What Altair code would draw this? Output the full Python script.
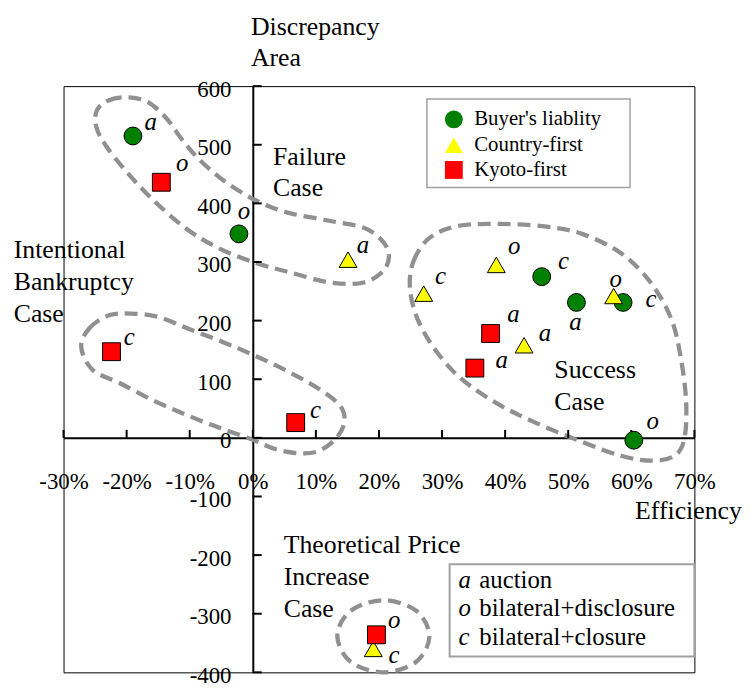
import altair as alt
import pandas as pd

# ---------------- data ----------------
series_names = ["Buyer's liablity", "Country-first", "Kyoto-first"]

buyer_x = [-19.0, -2.2, 45.8, 51.3, 58.7, 60.4]
buyer_y = [515, 348, 275, 231, 231, -4]
buyer_lab = ["a", "o", "c", "a", "c", "o"]

country_x = [15.1, 27.1, 38.6, 43.0, 57.2, 19.1]
country_y = [304, 246, 295, 158, 242, -360]
country_lab = ["a", "c", "o", "a", "o", "c"]

kyoto_x = [-14.5, -22.4, 6.8, 37.7, 35.2, 19.6]
kyoto_y = [436, 147, 26, 178, 119, -336]
kyoto_lab = ["o", "c", "c", "a", "a", "o"]

x_ticks = [-30, -20, -10, 0, 10, 20, 30, 40, 50, 60, 70]
y_ticks = [-400, -300, -200, -100, 0, 100, 200, 300, 400, 500, 600]

# dashed outlines (data units)
outline_fail_x = [-24.7, -22.8, -19.6, -16.5, -13.6, -11.3, -8.6, -5.0, -1.2, 1.9, 6.0, 12.3, 18.1, 21.3,
                  21.0, 17.6, 12.3, 6.0, 0.3, -5.5, -10.7, -16.0, -20.1, -23.2, -24.8]
outline_fail_y = [559, 576, 581, 572, 544, 510, 476, 442, 415, 398, 383, 370, 356, 324,
                  289, 265, 265, 282, 299, 324, 358, 408, 455, 497, 530]
outline_bank_x = [-27.2, -25.9, -22.8, -19.2, -14.9, -9.7, -4.4, 0.8, 6.0, 10.7, 13.9, 14.5, 13.1,
                  10.3, 7.1, 3.5, -0.3, -5.5, -10.7, -16.0, -21.2, -25.4]
outline_bank_y = [155, 187, 209, 212, 206, 184, 162, 138, 111, 82, 54, 26, -2,
                  -23, -26, -19, -2, 18, 40, 65, 94, 116]
outline_succ_x = [24.9, 25.5, 28.0, 32.3, 38.5, 45.9, 52.2, 58.5, 63.2, 66.4, 67.9, 68.7, 68.4,
                  66.8, 63.2, 58.5, 52.2, 44.8, 38.5, 32.7, 28.6, 26.0]
outline_succ_y = [257, 302, 341, 361, 365, 361, 348, 314, 263, 201, 133, 60, -2,
                  -31, -39, -31, -7, 26, 60, 104, 155, 206]
outline_theo_x = [13.4, 15.5, 20.7, 25.9, 28.0, 25.9, 20.7, 15.5]
outline_theo_y = [-338, -295, -277, -295, -338, -382, -400, -382]

ann_text = ["Discrepancy\nArea", "Failure\nCase", "Intentional\nBankruptcy\nCase",
            "Success\nCase", "Theoretical Price\nIncrease\nCase", "Efficiency"]
ann_x = [-0.3, 3.2, -37.9, 47.8, 4.9, 60.6]
ann_y = [688, 466, 306, 102, -197, -138]

key_letters = ["a", "o", "c"]
key_desc = ["auction", "bilateral+disclosure", "bilateral+closure"]
key_letter_x = 32.6
key_desc_x = 35.9
key_y = [-256, -303.5, -352.6]

legend1_box = {"x": 27.6, "x2": 59.8, "y": 578, "y2": 427}
legend2_box = {"x": 31.2, "x2": 70.0, "y": -215.6, "y2": -373}

# ---------------- layout ----------------
X_MIN, X_MAX = -30, 70
Y_MIN, Y_MAX = -400, 600
W, H = 636, 591
PX_X = (X_MAX - X_MIN) / W
PX_Y = (Y_MAX - Y_MIN) / H

# label offsets in pixels (dx right, dy down)
buyer_off = [(18, -11), (5, -20), (22, -13), (-1, 23), (28, 0), (19, -16)]
country_off = [(15, -12), (17, -15), (18, -16), (21, -9), (2, -14), (21, 9)]
kyoto_off = [(21, -16), (18, -12), (20, -10), (23, -17), (27, -5), (18, -12)]

FONT = "Liberation Serif"

rows = []
for name, xs, ys, labs, offs in [
    (series_names[0], buyer_x, buyer_y, buyer_lab, buyer_off),
    (series_names[1], country_x, country_y, country_lab, country_off),
    (series_names[2], kyoto_x, kyoto_y, kyoto_lab, kyoto_off),
]:
    for x, y, l, (dx, dy) in zip(xs, ys, labs, offs):
        rows.append({"series": name, "x": x, "y": y, "lab": l,
                     "lx": x + dx * PX_X, "ly": y - dy * PX_Y})
pts = pd.DataFrame(rows)

orows = []
for oid, xs, ys in [("fail", outline_fail_x, outline_fail_y), ("bank", outline_bank_x, outline_bank_y),
                    ("succ", outline_succ_x, outline_succ_y), ("theo", outline_theo_x, outline_theo_y)]:
    for i, (x, y) in enumerate(zip(xs, ys)):
        orows.append({"oid": oid, "i": i, "x": x, "y": y})
outl = pd.DataFrame(orows)

xscale = alt.Scale(domain=[X_MIN, X_MAX], nice=False, zero=False)
yscale = alt.Scale(domain=[Y_MIN, Y_MAX], nice=False, zero=False)

xaxis = alt.Axis(title=None, values=x_ticks, offset=-(0 - Y_MIN) / PX_Y, ticks=False, tickSize=0,
                 grid=False, domainColor="black", domainWidth=2, labelFont=FONT, labelFontSize=23,
                 labelColor="black", labelPadding=51, labelBaseline="alphabetic", labelFlush=False,
                 labelOverlap=False, labelExpr="datum.value + '%'")
yaxis = alt.Axis(title=None, values=y_ticks, offset=-(0 - X_MIN) / PX_X, ticks=False, tickSize=0,
                 grid=False, domainColor="black", domainWidth=2, labelFont=FONT, labelFontSize=23,
                 labelColor="black", labelPadding=22, labelOffset=3, labelFlush=False,
                 labelOverlap=False, labelExpr="'' + datum.value")


def X(f, **kw):
    return alt.X(f, type="quantitative", scale=xscale, axis=xaxis, **kw)


def Y(f, **kw):
    return alt.Y(f, type="quantitative", scale=yscale, axis=yaxis, **kw)


outlines = alt.Chart(outl).mark_line(
    interpolate="cardinal-closed", strokeDash=[13, 7], strokeWidth=4.3, color="#909090"
).encode(x=X("x"), y=Y("y"), order="i:Q", detail="oid:N")

xt = pd.DataFrame({"v": x_ticks, "a": [0] * len(x_ticks), "b": [8 * PX_Y] * len(x_ticks)})
yt = pd.DataFrame({"v": y_ticks, "a": [0] * len(y_ticks), "b": [9 * PX_X] * len(y_ticks)})
xtick_layer = alt.Chart(xt).mark_rule(color="black", strokeWidth=2).encode(
    x=X("v"), y=Y("a"), y2="b:Q")
ytick_layer = alt.Chart(yt).mark_rule(color="black", strokeWidth=2).encode(
    y=Y("v"), x=X("a"), x2="b:Q")

boxes = pd.DataFrame([dict(legend1_box, w=1.5), dict(legend2_box, w=2)])
box_layer = alt.Chart(boxes).mark_rect(fill="white", stroke="#a0a0a0").encode(
    x=X("x"), x2="x2:Q", y=Y("y"), y2="y2:Q", strokeWidth=alt.StrokeWidth("w:Q", scale=None))

leg = alt.Legend(title=None, orient="none", legendX=383, legendY=23, padding=0,
                 labelFont=FONT, labelFontSize=21, labelColor="black", symbolSize=324,
                 symbolStrokeColor="black", symbolStrokeWidth=1, symbolOpacity=1,
                 rowPadding=3, labelOffset=10)

points = alt.Chart(pts).mark_point(filled=True, size=324, stroke="black", strokeWidth=1, opacity=1).encode(
    x=X("x"), y=Y("y"),
    color=alt.Color("series:N", scale=alt.Scale(domain=series_names, range=["#008000", "#ffff00", "#ff0000"]),
                    legend=leg),
    shape=alt.Shape("series:N", scale=alt.Scale(domain=series_names, range=["circle", "triangle-up", "square"]),
                    legend=leg),
)

pt_labels = alt.Chart(pts).mark_text(font=FONT, fontStyle="italic", fontSize=25, color="black",
                                     align="center", baseline="middle", dy=-3).encode(
    x=X("lx"), y=Y("ly"), text="lab:N")

ann = pd.DataFrame({"t": ann_text, "x": ann_x, "y": ann_y})
ann_layer = alt.Chart(ann).mark_text(font=FONT, fontSize=26, color="black", align="left",
                                     baseline="alphabetic", lineBreak="\n", lineHeight=32).encode(
    x=X("x"), y=Y("y"), text="t:N")

key = pd.DataFrame({"l": key_letters, "d": key_desc, "y": key_y,
                    "lx": [key_letter_x] * 3, "dx": [key_desc_x] * 3})
key_letters_layer = alt.Chart(key).mark_text(font=FONT, fontStyle="italic", fontSize=25, color="black",
                                             align="left", baseline="alphabetic").encode(
    x=X("lx"), y=Y("y"), text="l:N")
key_desc_layer = alt.Chart(key).mark_text(font=FONT, fontSize=25, color="black",
                                          align="left", baseline="alphabetic").encode(
    x=X("dx"), y=Y("y"), text="d:N")

chart = alt.layer(
    outlines, xtick_layer, ytick_layer, box_layer, points, pt_labels, ann_layer,
    key_letters_layer, key_desc_layer
).properties(
    width=W, height=H,
    autosize=alt.AutoSizeParams(type="none"),
    padding={"left": 56, "top": 76, "right": 48, "bottom": 12},
    background="white",
).configure_view(stroke="black", strokeWidth=1)

chart.save("out.html", embed_options={"renderer": "svg", "actions": False})
